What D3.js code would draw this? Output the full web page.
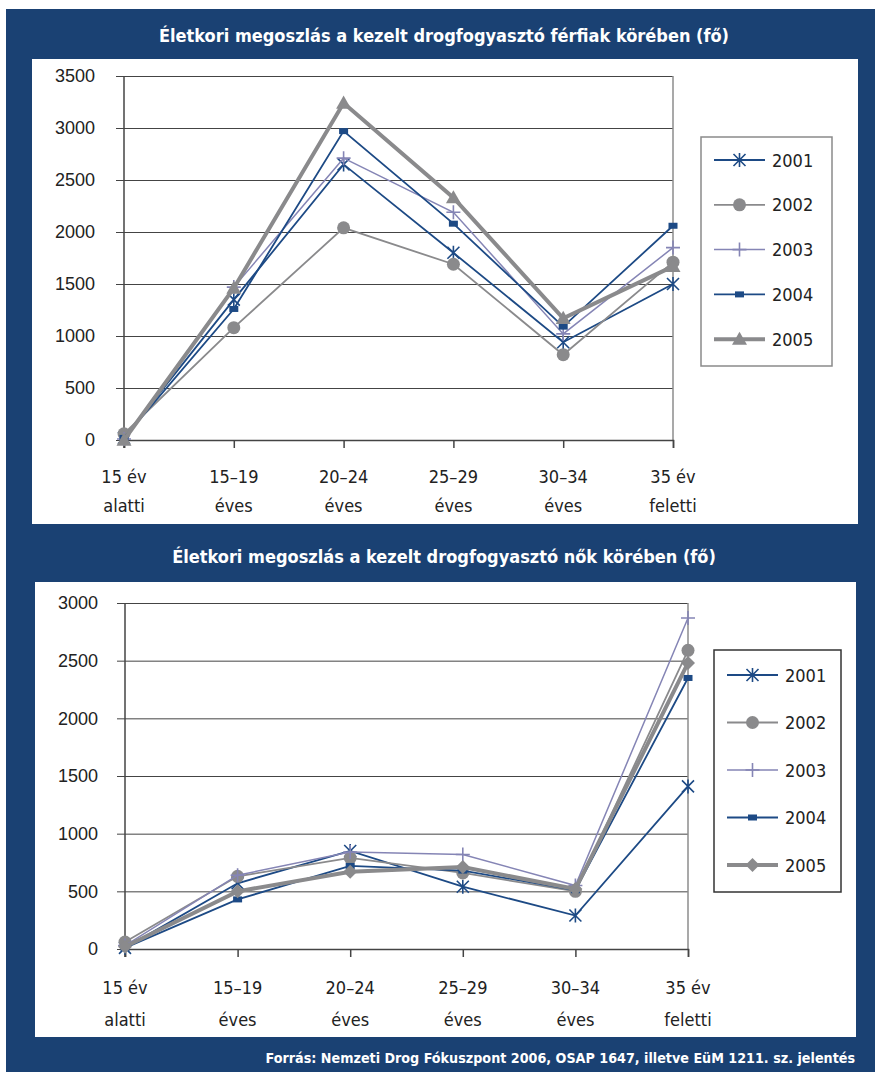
<!DOCTYPE html>
<html>
<head>
<meta charset="utf-8">
<script src="https://cdn.jsdelivr.net/npm/d3@7"></script>
<style>
  body { margin: 0; background: #fff; }
  svg { display: block; font-family: "DejaVu Sans Condensed", "DejaVu Sans", sans-serif; }
</style>
</head>
<body>
<svg width="875" height="1072"></svg>
<script>
const width = 875, height = 1072;

// categories (two line labels)
const ageGroups = [["15 év", "alatti"], ["15–19", "éves"], ["20–24", "éves"], ["25–29", "éves"], ["30–34", "éves"], ["35 év", "feletti"]];
const years = ["2001", "2002", "2003", "2004", "2005"];

// men (férfiak)
const men2001 = [20, 1350, 2650, 1800, 940, 1500];
const men2002 = [60, 1080, 2040, 1690, 820, 1710];
const men2003 = [10, 1470, 2710, 2190, 1020, 1850];
const men2004 = [20, 1260, 2970, 2080, 1090, 2060];
const men2005 = [0, 1460, 3240, 2330, 1170, 1670];
const menTicks = [0, 500, 1000, 1500, 2000, 2500, 3000, 3500];

// women (nők)
const women2001 = [10, 570, 850, 540, 290, 1410];
const women2002 = [60, 630, 790, 660, 500, 2590];
const women2003 = [30, 640, 840, 820, 550, 2870];
const women2004 = [10, 430, 720, 680, 510, 2350];
const women2005 = [20, 500, 670, 710, 520, 2480];
const womenTicks = [0, 500, 1000, 1500, 2000, 2500, 3000];

const titleMen = "Életkori megoszlás a kezelt drogfogyasztó férfiak körében (fő)";
const titleWomen = "Életkori megoszlás a kezelt drogfogyasztó nők körében (fő)";
const source = "Forrás: Nemzeti Drog Fókuszpont 2006, OSAP 1647, illetve EüM 1211. sz. jelentés";

const navy = "#1a4173";
const darkBlue = "#1d4a85";
const grey = "#8a8a8c";
const lavender = "#8585b5";

const seriesStyle = {
    "2001": {color: darkBlue, width: 1.8, marker: "asterisk"},
    "2002": {color: grey, width: 1.8, marker: "circle"},
    "2003": {color: lavender, width: 1.5, marker: "plus"},
    "2004": {color: darkBlue, width: 1.8, marker: "square"},
    "2005": {color: grey, width: 4, marker: "triangle"}
};

const svg = d3.select("svg");

// background
svg.append("rect").attr("x", 6).attr("y", 9).attr("width", width - 6).attr("height", height - 9).attr("fill", navy);

function drawMarker(g, type, cx, cy, color) {
    if (type === "asterisk") {
        const r = 6;
        g.append("path")
            .attr("d", `M${cx - r},${cy - r}L${cx + r},${cy + r}M${cx - r},${cy + r}L${cx + r},${cy - r}M${cx},${cy - r - 1}L${cx},${cy + r + 1}`)
            .attr("stroke", color).attr("stroke-width", 1.6).attr("fill", "none");
    } else if (type === "circle") {
        g.append("circle").attr("cx", cx).attr("cy", cy).attr("r", 6.5).attr("fill", color);
    } else if (type === "plus") {
        const r = 7;
        g.append("path")
            .attr("d", `M${cx - r},${cy}L${cx + r},${cy}M${cx},${cy - r}L${cx},${cy + r}`)
            .attr("stroke", color).attr("stroke-width", 1.6).attr("fill", "none");
    } else if (type === "square") {
        g.append("rect").attr("x", cx - 4.5).attr("y", cy - 3).attr("width", 9).attr("height", 6).attr("fill", color);
    } else if (type === "triangle") {
        const r = 7.5;
        g.append("path")
            .attr("d", `M${cx},${cy - r}L${cx + r},${cy + r * 0.75}L${cx - r},${cy + r * 0.75}Z`)
            .attr("fill", color);
    } else if (type === "diamond") {
        const r = 7;
        g.append("path")
            .attr("d", `M${cx},${cy - r}L${cx + r},${cy}L${cx},${cy + r}L${cx - r},${cy}Z`)
            .attr("fill", color);
    }
}

function drawChart(cfg) {
    const g = svg.append("g");

    // white panel
    g.append("rect")
        .attr("x", cfg.panel[0]).attr("y", cfg.panel[1])
        .attr("width", cfg.panel[2] - cfg.panel[0]).attr("height", cfg.panel[3] - cfg.panel[1])
        .attr("fill", "white");

    // title
    g.append("text")
        .attr("x", 444).attr("y", cfg.titleY)
        .attr("text-anchor", "middle")
        .attr("fill", "white")
        .style("font-weight", "bold")
        .style("font-size", "18px")
        .text(cfg.title);

    const x = d3.scalePoint()
        .domain(d3.range(ageGroups.length))
        .range([cfg.left, cfg.right]);
    const y = d3.scaleLinear()
        .domain([0, d3.max(cfg.ticks)])
        .range([cfg.bottom, cfg.top]);

    // gridlines (+ little ticks to the left of the axis)
    g.append("g")
        .attr("transform", `translate(${cfg.left - 8},0)`)
        .call(d3.axisRight(y).tickValues(cfg.ticks).tickSize(cfg.right - cfg.left + 8).tickFormat(""))
        .call(a => a.select(".domain").remove())
        .call(a => a.selectAll("line").attr("stroke", "#444").attr("stroke-width", 1));

    // right frame
    g.append("line")
        .attr("x1", cfg.right).attr("x2", cfg.right)
        .attr("y1", cfg.top).attr("y2", cfg.bottom)
        .attr("stroke", "#8c8c8c").attr("stroke-width", 1.5);

    // y labels
    g.append("g")
        .attr("transform", `translate(${cfg.left},0)`)
        .call(d3.axisLeft(y).tickValues(cfg.ticks).tickSize(0).tickPadding(cfg.labelGap).tickFormat(d3.format("d")))
        .call(a => a.select(".domain").remove())
        .call(a => a.selectAll("text").attr("fill", "#222").style("font-size", "18px").style("font-family", "inherit"));

    // x axis
    const xa = g.append("g")
        .attr("transform", `translate(0,${cfg.bottom})`)
        .call(d3.axisBottom(x).tickSize(8).tickFormat(""));
    xa.select(".domain").attr("stroke", "#444").attr("stroke-width", 1.5);
    xa.selectAll(".tick line").attr("stroke", "#444").attr("stroke-width", 1.5);

    // y axis line
    g.append("line")
        .attr("x1", cfg.left).attr("x2", cfg.left)
        .attr("y1", cfg.top).attr("y2", cfg.bottom + 8)
        .attr("stroke", "#444").attr("stroke-width", 1.5);

    // x labels
    const lab = g.append("g").selectAll("text")
        .data(ageGroups)
        .join("text")
        .attr("x", (d, i) => x(i))
        .attr("text-anchor", "middle")
        .attr("fill", "#222")
        .style("font-size", "18px");
    lab.append("tspan").attr("x", (d, i) => x(i)).attr("y", cfg.bottom + cfg.lab1).text(d => d[0]);
    lab.append("tspan").attr("x", (d, i) => x(i)).attr("y", cfg.bottom + cfg.lab2).text(d => d[1]);

    // series
    const line = d3.line().x((d, i) => x(i)).y(d => y(d));
    years.forEach((yr, k) => {
        const st = seriesStyle[yr];
        const marker = (yr === "2005") ? cfg.lastMarker : st.marker;
        const sg = g.append("g");
        sg.append("path")
            .datum(cfg.series[k])
            .attr("d", line)
            .attr("fill", "none")
            .attr("stroke", st.color)
            .attr("stroke-width", st.width)
            .attr("stroke-linejoin", "miter");
        cfg.series[k].forEach((v, i) => drawMarker(sg, marker, x(i), y(v), st.color));
    });

    // legend
    const lg = g.append("g");
    lg.append("rect")
        .attr("x", cfg.legend.x).attr("y", cfg.legend.y)
        .attr("width", cfg.legend.w).attr("height", cfg.legend.h)
        .attr("fill", "white").attr("stroke", cfg.legend.stroke).attr("stroke-width", 1.5);
    years.forEach((yr, k) => {
        const st = seriesStyle[yr];
        const marker = (yr === "2005") ? cfg.lastMarker : st.marker;
        const ly = cfg.legend.firstY + k * cfg.legend.step;
        lg.append("line")
            .attr("x1", cfg.legend.x + 13).attr("x2", cfg.legend.x + 64)
            .attr("y1", ly).attr("y2", ly)
            .attr("stroke", st.color).attr("stroke-width", st.width);
        drawMarker(lg, marker, cfg.legend.x + 38.5, ly, st.color);
        lg.append("text")
            .attr("x", cfg.legend.x + 71).attr("y", ly + 6.5)
            .attr("fill", "#222")
            .style("font-size", "18px")
            .text(yr);
    });
}

drawChart({
    panel: [32, 59, 858, 524],
    title: titleMen, titleY: 42,
    left: 124, right: 673, top: 76, bottom: 440,
    ticks: menTicks, labelGap: 29,
    lab1: 43, lab2: 72,
    series: [men2001, men2002, men2003, men2004, men2005],
    lastMarker: "triangle",
    legend: {x: 701, y: 137, w: 131, h: 229, firstY: 160, step: 44.8, stroke: "#8a8a8a"}
});

drawChart({
    panel: [35, 582, 856, 1037],
    title: titleWomen, titleY: 563,
    left: 125, right: 688, top: 603, bottom: 949,
    ticks: womenTicks, labelGap: 27,
    lab1: 45, lab2: 77,
    series: [women2001, women2002, women2003, women2004, women2005],
    lastMarker: "diamond",
    legend: {x: 714, y: 650, w: 127, h: 242, firstY: 675, step: 47.5, stroke: "#333"}
});

// source note
svg.append("text")
    .attr("x", 855).attr("y", 1063)
    .attr("text-anchor", "end")
    .attr("fill", "white")
    .style("font-weight", "bold")
    .style("font-size", "14.2px")
    .text(source);
</script>
</body>
</html>
